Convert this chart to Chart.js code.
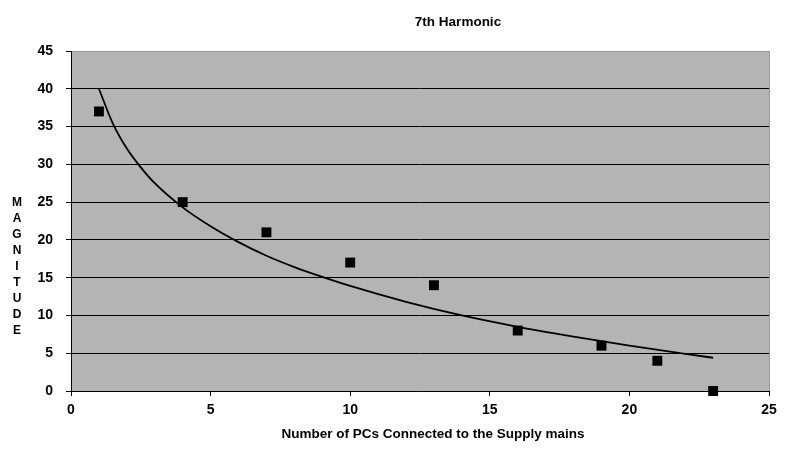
<!DOCTYPE html>
<html>
<head>
    <meta charset="utf-8">
    <title>7th Harmonic</title>
    <script src="https://cdn.jsdelivr.net/npm/chart.js@4.4.1/dist/chart.umd.min.js"></script>
    <style>
        body { margin: 0; background: #fff; }
        canvas { display: block; }
    </style>
</head>
<body>

<canvas id="myChart" width="785" height="466"></canvas>

<script>
    // measured points
    const pcCount = [1, 4, 7, 10, 13, 16, 19, 21, 23];
    const magnitude = [37, 25, 21, 17, 14, 8, 6, 4, 0];

    // trend line
    const trendX = [1, 1.5, 2, 2.5, 3, 4, 5, 6, 7, 8, 9, 10, 12, 14, 16, 18, 20, 22, 23];
    const trendY = [40, 35.4, 32.1, 29.6, 27.5, 24.3, 21.8, 19.7, 17.9, 16.4, 15.1, 13.9, 11.8, 10.0, 8.5, 7.2, 6.0, 4.9, 4.4];

    const xTicks = [0, 5, 10, 15, 20, 25];
    const yTicks = [0, 5, 10, 15, 20, 25, 30, 35, 40, 45];

    const chartTitle = '7th Harmonic';
    const xTitle = 'Number of PCs Connected to the Supply mains';
    const yTitle = 'MAGNITUDE';

    const fontFamily = '"Liberation Sans", Arial, sans-serif';

    // grey plot area + texts placed like the excel original
    const excelLook = {
        id: 'excelLook',
        beforeDraw(chart) {
            const ctx = chart.ctx, a = chart.chartArea;
            ctx.save();
            ctx.fillStyle = '#fff';
            ctx.fillRect(0, 0, chart.width, chart.height);
            ctx.fillStyle = '#b4b4b4';
            ctx.fillRect(a.left, a.top, a.right - a.left, a.bottom - a.top);
            ctx.restore();
        },
        afterDraw(chart) {
            const ctx = chart.ctx, a = chart.chartArea;
            const mid = (a.left + a.right) / 2;
            ctx.save();
            ctx.fillStyle = '#000';
            ctx.textAlign = 'center';
            ctx.textBaseline = 'middle';
            ctx.font = 'bold 13.5px ' + fontFamily;
            ctx.fillText(chartTitle, mid + 38, 22);
            ctx.fillText(xTitle, mid + 13, 434);
            ctx.font = 'bold 12px ' + fontFamily;
            yTitle.split('').forEach((ch, i) => ctx.fillText(ch, 17, 203 + i * 16));
            ctx.restore();
        }
    };

    const ctx = document.getElementById('myChart').getContext('2d');
    const myChart = new Chart(ctx, {
        type: 'scatter',
        data: {
            datasets: [{
                data: pcCount.map((x, i) => ({x: x, y: magnitude[i]})),
                pointStyle: 'rect',
                pointRadius: 7,
                pointHoverRadius: 7,
                backgroundColor: '#000',
                borderColor: '#000',
                borderWidth: 0,
                showLine: false,
                clip: false
            }, {
                data: trendX.map((x, i) => ({x: x, y: trendY[i]})),
                showLine: true,
                pointRadius: 0,
                borderColor: '#000',
                borderWidth: 1.8,
                cubicInterpolationMode: 'monotone'
            }]
        },
        options: {
            responsive: false,
            animation: false,
            layout: {padding: {left: 0, right: 16, top: 51, bottom: 0}},
            plugins: {
                legend: {display: false},
                tooltip: {enabled: false},
                title: {display: false}
            },
            scales: {
                x: {
                    type: 'linear',
                    min: 0,
                    max: 25,
                    afterBuildTicks: s => { s.ticks = xTicks.map(v => ({value: v})); },
                    afterFit: s => { s.height = 75; },
                    ticks: {
                        color: '#000',
                        padding: 6,
                        maxRotation: 0,
                        font: {family: fontFamily, size: 14, weight: 'bold'}
                    },
                    grid: {
                        color: c => c.tick && c.tick.value === 25 ? '#9a9a9a' : 'rgba(0,0,0,0)',
                        tickColor: '#000',
                        tickLength: 5
                    },
                    border: {color: '#000', width: 1}
                },
                y: {
                    min: 0,
                    max: 45,
                    afterBuildTicks: s => { s.ticks = yTicks.map(v => ({value: v})); },
                    afterFit: s => { s.width = 71; },
                    ticks: {
                        color: '#000',
                        padding: 13,
                        font: {family: fontFamily, size: 14, weight: 'bold'}
                    },
                    grid: {
                        color: c => c.tick && c.tick.value === 45 ? '#9a9a9a' : '#000',
                        tickColor: '#000',
                        tickLength: 5
                    },
                    border: {color: '#000', width: 1}
                }
            }
        },
        plugins: [excelLook]
    });
</script>

</body>
</html>
